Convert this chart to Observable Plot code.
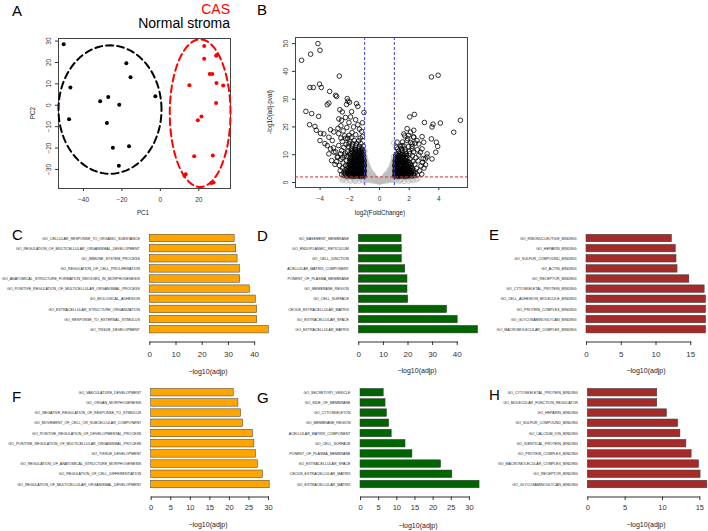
<!DOCTYPE html>
<html><head><meta charset="utf-8">
<script src="https://cdn.jsdelivr.net/npm/d3@7"></script>
<script src="https://cdn.jsdelivr.net/npm/@observablehq/plot@0.6"></script>
<style>
html,body{margin:0;padding:0;background:#fff;}
#fig{position:relative;width:708px;height:531px;overflow:hidden;background:#fff;}
#fig svg{position:absolute;left:0;top:0;}
</style></head><body><div id="fig"></div>
<script>
// ---------- Panel A: PCA ----------
const groupNames = ["Normal stroma", "CAS"];
const groupColors = ["#000000", "#ff0000"];
const normalPC1 = [-50.3,-17.7,-15.5,-46.8,-31.3,-27.1,-21.4,-2.6,-47.5,-27.8,-24.7,-16.3,-21.6];
const normalPC2 = [28.5,19.6,13.1,8.3,1.9,3.9,0.2,4.2,-6.5,-8.3,-19.8,-19.2,-28.3];
const casPC1 = [22.8,22.8,29.4,29.0,25.7,27.0,15.1,29.2,32.7,29.0,21.4,19.5,17.6,27.3,13.2,12.5,27.7,26.6];
const casPC2 = [27.7,21.7,23.5,23.1,14.6,14.6,9.3,10.4,9.2,1.1,-5.3,-7.0,-23.8,-23.5,-32.2,-32.9,-36.1,-36.3];
const ellipseCx = [-26.2, 20.7];
const ellipseCy = [-2.0, -3.7];
const ellipseRx = [26.8, 15.8];
const ellipseRy = [30.0, 34.5];
const pcaXTicks = [-40,-20,0,20];
const pcaYTicks = [-30,-20,-10,0,10,20,30];

// ---------- Panel B: volcano ----------
const fcCutoffs = [-1, 1];
const padjCutoff = [2];
const volcanoXTicks = [-4,-2,0,2,4];
const volcanoYTicks = [0,10,20,30,40,50];
const downGenes = [
[-5.25,44.0],[-4.64,46.2],[-4.15,50.0],[-4.01,47.6],[-4.69,34.2],[-4.46,34.2],[-4.04,35.4],[-3.92,34.2],[-3.36,32.8],[-2.96,31.4],[-2.89,31.0],[-2.71,38.3],[-3.52,28.0],[-3.41,28.6],[-4.96,25.6],[-4.57,24.8],[-4.10,23.8],[-2.17,30.2],[-2.13,29.3],[-2.22,28.1],[-2.02,28.9],[-1.55,28.4],[-1.46,27.4],[-1.88,25.5],[-1.05,25.2],[-4.71,20.8],[-4.35,20.2],[-4.26,18.8],[-3.97,17.7],[-4.01,15.1],[-3.68,14.0],[-3.75,17.5],[-2.67,26.2],[-2.51,25.4],[-2.74,22.9],[-2.29,23.4],[-1.95,23.6],[-2.56,22.4],[-1.61,22.6],[-2.06,21.6],[-1.46,20.8],[-3.30,19.0],[-3.08,18.2],[-2.75,17.6],[-3.41,16.3],[-3.18,15.1],[-3.52,13.3],[-3.30,12.1],[-3.41,10.3],[-3.07,10.9],[-2.85,9.1],[-3.23,7.9],[-3.0,6.5],[-2.8,19.5],[-2.45,18.6],[-2.2,19.8],[-1.75,20.0],[-1.35,19.2],[-1.15,21.5],[-2.6,20.4],
[-1.03,2.3],[-1.14,2.4],[-1.27,2.2],[-1.41,2.3],[-1.55,2.4],[-1.70,2.2],[-1.86,2.3],[-2.02,2.4],[-2.20,2.3],
[-1.08,2.7],[-1.21,2.8],[-1.34,2.7],[-1.48,2.6],[-1.63,2.8],[-1.78,2.7],[-1.94,2.6],[-2.10,2.8],
[-1.06,3.1],[-1.19,3.2],[-1.33,3.0],[-1.48,3.1],[-1.62,3.2],[-1.78,3.1],[-1.94,3.0],[-2.12,3.2],[-2.30,3.1],
[-1.10,3.6],[-1.24,3.5],[-1.37,3.7],[-1.52,3.6],[-1.66,3.5],[-1.82,3.7],[-1.98,3.6],[-2.16,3.5],
[-1.02,4.0],[-1.15,4.1],[-1.29,3.9],[-1.44,4.0],[-1.58,4.1],[-1.73,4.0],[-1.90,3.9],[-2.06,4.1],[-2.25,4.0],
[-1.05,4.5],[-1.18,4.4],[-1.32,4.6],[-1.47,4.5],[-1.62,4.4],[-1.78,4.6],[-1.95,4.5],[-2.12,4.4],
[-1.08,4.9],[-1.21,5.0],[-1.36,4.8],[-1.51,4.9],[-1.66,5.0],[-1.82,4.9],[-1.98,4.8],[-2.16,5.0],
[-1.10,5.4],[-1.25,5.3],[-1.40,5.5],[-1.56,5.4],[-1.72,5.3],[-1.88,5.5],[-2.05,5.4],
[-1.04,5.8],[-1.17,5.9],[-1.31,5.7],[-1.47,5.8],[-1.63,5.9],[-1.79,5.8],[-1.96,5.7],[-2.13,5.9],
[-1.02,6.3],[-1.16,6.2],[-1.32,6.4],[-1.47,6.3],[-1.63,6.2],[-1.80,6.4],[-1.97,6.3],
[-1.09,6.7],[-1.24,6.8],[-1.39,6.6],[-1.55,6.7],[-1.71,6.8],[-1.88,6.7],[-2.05,6.6],
[-1.12,7.2],[-1.28,7.1],[-1.44,7.3],[-1.60,7.2],[-1.77,7.1],[-1.94,7.3],
[-1.03,7.6],[-1.18,7.7],[-1.34,7.5],[-1.50,7.6],[-1.67,7.7],[-1.85,7.6],[-2.02,7.5],
[-1.05,8.1],[-1.20,8.0],[-1.37,8.2],[-1.54,8.1],[-1.72,8.0],[-1.90,8.2],
[-1.12,8.5],[-1.28,8.6],[-1.45,8.4],[-1.62,8.5],[-1.80,8.6],[-2.00,8.5],
[-1.15,9.0],[-1.32,8.9],[-1.50,9.1],[-1.70,9.0],[-1.90,8.9],
[-1.06,9.4],[-1.22,9.5],[-1.40,9.3],[-1.58,9.4],[-1.77,9.5],[-1.97,9.4],[-2.20,9.3],
[-1.10,9.9],[-1.28,9.8],[-1.46,10.0],[-1.65,9.9],[-1.85,9.8],
[-1.15,10.3],[-1.33,10.4],[-1.52,10.2],[-1.72,10.3],[-1.95,10.4],
[-1.20,10.8],[-1.40,10.7],[-1.60,10.9],[-1.82,10.8],
[-1.08,11.2],[-1.27,11.3],[-1.47,11.1],[-1.68,11.2],[-1.90,11.3],[-2.15,11.1],
[-1.15,11.7],[-1.37,11.6],[-1.58,11.8],[-1.80,11.7],
[-1.20,12.1],[-1.42,12.2],[-1.65,12.0],[-1.88,12.1],
[-1.10,13.1],[-1.35,13.0],[-1.60,13.2],[-1.85,13.1],[-2.10,13.0],
[-1.25,14.0],[-1.55,14.1],[-1.80,13.9],[-2.05,14.0],
[-1.40,15.0],[-1.70,15.1],[-2.00,14.9],
[-1.30,16.0],[-1.90,16.1],[-2.30,15.9],
[-2.40,3.5],[-2.50,5.2],[-2.45,7.0],[-2.60,8.4],[-2.35,9.8],[-2.55,11.5],[-2.70,6.1],[-2.80,9.2],[-2.65,4.3],[-2.90,7.5],[-2.40,12.6],[-2.25,13.7],[-2.50,14.8],[-2.95,11.0],[-2.75,13.3],[-2.15,15.9],[-1.60,17.2],[-1.85,18.0],[-2.05,17.0],[-2.35,16.8],[-1.15,16.5],[-1.20,18.4],[-2.60,16.0],[-3.10,12.5],
[-2.38,2.6],[-2.32,4.6],[-2.28,6.2],[-2.22,7.9],[-2.55,2.9],[-2.48,9.0],[-2.30,10.6],[-2.62,10.3]
];
const upGenes = [
[3.50,38.0],[3.95,38.6],[5.45,22.4],[5.00,18.1],[3.03,21.6],[3.61,21.0],[3.54,20.0],[4.10,21.4],[2.35,24.5],[2.04,23.6],[3.50,15.7],[3.83,14.5],[3.92,13.0],[3.79,10.9],[3.54,8.5],[2.87,16.5],[2.98,14.5],[2.87,12.1],[2.76,10.9],[2.31,18.8],[1.86,19.4],[2.09,18.1],[1.64,17.5],[1.19,14.5],[1.14,12.7],[1.52,13.3],[1.86,15.1],[2.20,13.9],[2.53,15.1],[2.65,13.9],[2.31,16.3],[3.21,10.3],[3.09,8.5],
[1.02,2.3],[1.14,2.4],[1.27,2.2],[1.40,2.3],[1.54,2.4],[1.69,2.2],[1.84,2.3],[2.00,2.4],[2.18,2.3],
[1.08,2.7],[1.21,2.8],[1.34,2.7],[1.48,2.6],[1.62,2.8],[1.77,2.7],[1.93,2.6],[2.09,2.8],
[1.06,3.1],[1.19,3.2],[1.33,3.0],[1.47,3.1],[1.61,3.2],[1.76,3.1],[1.92,3.0],[2.10,3.2],[2.28,3.1],
[1.10,3.6],[1.23,3.5],[1.37,3.7],[1.51,3.6],[1.66,3.5],[1.82,3.7],[1.98,3.6],[2.16,3.5],
[1.03,4.0],[1.16,4.1],[1.30,3.9],[1.44,4.0],[1.59,4.1],[1.74,4.0],[1.90,3.9],[2.07,4.1],[2.25,4.0],
[1.05,4.5],[1.19,4.4],[1.33,4.6],[1.48,4.5],[1.63,4.4],[1.79,4.6],[1.96,4.5],[2.13,4.4],
[1.09,4.9],[1.23,5.0],[1.37,4.8],[1.52,4.9],[1.68,5.0],[1.84,4.9],[2.01,4.8],[2.20,5.0],
[1.11,5.4],[1.26,5.3],[1.41,5.5],[1.57,5.4],[1.73,5.3],[1.90,5.5],[2.07,5.4],
[1.04,5.8],[1.18,5.9],[1.33,5.7],[1.48,5.8],[1.64,5.9],[1.80,5.8],[1.97,5.7],[2.15,5.9],
[1.03,6.3],[1.17,6.2],[1.33,6.4],[1.49,6.3],[1.66,6.2],[1.83,6.4],[2.00,6.3],
[1.10,6.7],[1.25,6.8],[1.41,6.6],[1.57,6.7],[1.74,6.8],[1.92,6.7],[2.10,6.6],
[1.13,7.2],[1.29,7.1],[1.45,7.3],[1.62,7.2],[1.80,7.1],[1.99,7.3],
[1.05,7.6],[1.20,7.7],[1.36,7.5],[1.53,7.6],[1.71,7.7],[1.90,7.6],
[1.07,8.1],[1.22,8.0],[1.39,8.2],[1.56,8.1],[1.75,8.0],
[1.14,8.5],[1.30,8.6],[1.47,8.4],[1.65,8.5],[1.85,8.6],[2.06,8.5],
[1.17,9.0],[1.35,8.9],[1.54,9.1],[1.74,9.0],
[1.08,9.4],[1.25,9.5],[1.43,9.3],[1.62,9.4],[1.83,9.5],
[1.12,9.9],[1.30,9.8],[1.50,10.0],[1.70,9.9],
[1.18,10.3],[1.38,10.4],[1.58,10.2],[1.80,10.3],[2.05,10.4],
[1.30,11.2],[1.52,11.3],[1.75,11.1],[2.00,11.2],
[1.22,12.1],[1.48,12.2],[1.72,12.0],[2.20,12.1],
[1.40,13.0],[1.65,13.1],[1.95,12.9],
[2.40,3.4],[2.50,5.0],[2.38,6.6],[2.60,7.8],[2.45,8.9],[2.70,4.2],[2.80,6.0],[2.65,9.9],[2.90,7.2],[2.30,11.0],[2.55,11.8],[2.85,3.0],[3.00,5.2],[2.95,8.6],[3.10,6.4],[2.20,13.0],[2.10,14.4],[1.90,15.8],[1.55,14.6],[2.40,14.2],[1.95,17.0],[2.30,16.4],[1.70,16.8],[3.20,9.2],
[2.36,2.5],[2.32,4.4],[2.26,7.6],[2.55,2.7],[2.22,9.6]
];
const otherGenes = [
[-2.4,1.2],[-2.2,1.6],[-2.0,1.0],[-1.8,1.5],[-1.6,0.9],[-1.4,1.4],[-1.2,1.0],[-1.05,1.7],[-1.9,1.8],[-1.5,1.8],[-2.1,1.9],[-1.3,1.9],[-1.7,1.2],[-2.3,1.8],
[1.05,1.5],[1.2,1.1],[1.35,1.7],[1.5,1.0],[1.65,1.5],[1.8,1.2],[2.0,1.7],[2.2,1.3],[2.4,1.8],[1.4,0.8],[1.9,1.9],[1.15,1.9],[1.7,1.8],[2.1,1.0],
[-2.5,0.8],[-2.25,0.6],[-1.95,0.5],[-1.65,0.4],[-1.35,0.5],[-1.1,0.6],[1.1,0.6],[1.35,0.5],[1.65,0.4],[1.95,0.5],[2.25,0.7],[2.5,1.0],[-2.6,1.6],[2.6,1.5],[-1.15,1.3],[1.25,1.4],
[-0.97,1.0],[-0.97,2.3],[-0.97,3.6],[-0.97,4.9],[-0.97,6.2],[-0.97,7.5],[-0.97,8.8],
[-0.91,1.5],[-0.91,2.8],[-0.91,4.1],[-0.91,5.4],[-0.91,6.6],[-0.91,7.9],
[-0.85,0.9],[-0.85,2.1],[-0.85,3.3],[-0.85,4.5],[-0.85,5.7],[-0.85,6.9],
[-0.79,1.4],[-0.79,2.6],[-0.79,3.8],[-0.79,5.0],[-0.79,6.1],
[-0.73,0.8],[-0.73,1.9],[-0.73,3.0],[-0.73,4.1],[-0.73,5.2],
[-0.66,1.3],[-0.66,2.4],[-0.66,3.5],[-0.66,4.5],
[-0.60,0.7],[-0.60,1.7],[-0.60,2.7],[-0.60,3.8],
[-0.53,1.1],[-0.53,2.1],[-0.53,3.2],
[-0.47,0.6],[-0.47,1.5],[-0.47,2.4],[-0.47,3.1],
[-0.40,1.0],[-0.40,1.8],[-0.40,2.6],
[-0.34,0.5],[-0.34,1.3],[-0.34,2.0],
[-0.27,0.8],[-0.27,1.6],
[-0.20,0.4],[-0.20,1.0],[-0.14,0.6],[-0.14,1.2],[-0.08,0.3],[-0.08,0.7],[0.0,0.1],[0.0,0.9],[0.05,0.3],[0.05,0.6],[0.12,0.6],[0.12,1.3],[0.18,0.4],[0.18,1.0],
[0.25,0.8],[0.25,1.5],
[0.31,0.5],[0.31,1.2],[0.31,1.9],
[0.38,0.9],[0.38,1.7],[0.38,2.5],
[0.44,0.6],[0.44,1.4],[0.44,2.3],[0.44,3.0],
[0.51,1.1],[0.51,2.0],[0.51,3.0],
[0.57,0.7],[0.57,1.6],[0.57,2.6],[0.57,3.5],
[0.64,1.2],[0.64,2.3],[0.64,3.3],[0.64,4.3],
[0.70,0.8],[0.70,1.8],[0.70,2.9],[0.70,4.0],[0.70,4.9],
[0.77,1.3],[0.77,2.5],[0.77,3.7],[0.77,4.8],
[0.83,0.9],[0.83,2.0],[0.83,3.2],[0.83,4.4],[0.83,5.6],[0.83,6.5],
[0.90,1.5],[0.90,2.7],[0.90,4.0],[0.90,5.3],[0.90,6.5],[0.90,7.6],
[0.96,1.0],[0.96,2.2],[0.96,3.5],[0.96,4.8],[0.96,6.0],[0.96,7.2],[0.96,8.1],
[0.96,14.2],[-0.98,11.5],[-1.0,9.8],[0.95,9.4]
];

// ---------- Panels C–H: GO enrichment bars ----------
const cTerms = ["GO_CELLULAR_RESPONSE_TO_ORGANIC_SUBSTANCE","GO_REGULATION_OF_MULTICELLULAR_ORGANISMAL_DEVELOPMENT","GO_IMMUNE_SYSTEM_PROCESS","GO_REGULATION_OF_CELL_PROLIFERATION","GO_ANATOMICAL_STRUCTURE_FORMATION_INVOLVED_IN_MORPHOGENESIS","GO_POSITIVE_REGULATION_OF_MULTICELLULAR_ORGANISMAL_PROCESS","GO_BIOLOGICAL_ADHESION","GO_EXTRACELLULAR_STRUCTURE_ORGANIZATION","GO_RESPONSE_TO_EXTERNAL_STIMULUS","GO_TISSUE_DEVELOPMENT"];
const cValues = [32.4,33.0,33.5,34.4,34.5,38.2,40.5,41.0,41.0,45.4];
const dTerms = ["GO_BASEMENT_MEMBRANE","GO_ENDOPLASMIC_RETICULUM","GO_CELL_JUNCTION","ACELLULAR_MATRIX_COMPONENT","PONENT_OF_PLASMA_MEMBRANE","GO_MEMBRANE_REGION","GO_CELL_SURFACE","CEOUS_EXTRACELLULAR_MATRIX","GO_EXTRACELLULAR_SPACE","GO_EXTRACELLULAR_MATRIX"];
const dValues = [17.4,17.5,17.5,18.9,19.8,19.8,20.1,35.9,40.2,48.5];
const eTerms = ["GO_RIBONUCLEOTIDE_BINDING","GO_HEPARIN_BINDING","GO_SULFUR_COMPOUND_BINDING","GO_ACTIN_BINDING","GO_RECEPTOR_BINDING","GO_CYTOSKELETAL_PROTEIN_BINDING","GO_CELL_ADHESION_MOLECULE_BINDING","GO_PROTEIN_COMPLEX_BINDING","GO_GLYCOSAMINOGLYCAN_BINDING","GO_MACROMOLECULAR_COMPLEX_BINDING"];
const eValues = [12.3,12.85,12.95,13.1,14.8,17.0,17.2,17.2,17.2,17.2];
const fTerms = ["GO_VASCULATURE_DEVELOPMENT","GO_ORGAN_MORPHOGENESIS","GO_NEGATIVE_REGULATION_OF_RESPONSE_TO_STIMULUS","GO_MOVEMENT_OF_CELL_OR_SUBCELLULAR_COMPONENT","GO_POSITIVE_REGULATION_OF_DEVELOPMENTAL_PROCESS","GO_POSITIVE_REGULATION_OF_MULTICELLULAR_ORGANISMAL_PROCESS","GO_TISSUE_DEVELOPMENT","GO_REGULATION_OF_ANATOMICAL_STRUCTURE_MORPHOGENESIS","GO_REGULATION_OF_CELL_DIFFERENTIATION","GO_REGULATION_OF_MULTICELLULAR_ORGANISMAL_DEVELOPMENT"];
const fValues = [21.1,22.3,23.0,23.5,26.0,26.4,26.8,27.3,28.6,30.3];
const gTerms = ["GO_SECRETORY_VESICLE","GO_SIDE_OF_MEMBRANE","GO_CYTOSKELETON","GO_MEMBRANE_REGION","ACELLULAR_MATRIX_COMPONENT","GO_CELL_SURFACE","PONENT_OF_PLASMA_MEMBRANE","GO_EXTRACELLULAR_SPACE","CEOUS_EXTRACELLULAR_MATRIX","GO_EXTRACELLULAR_MATRIX"];
const gValues = [6.4,6.9,7.3,7.9,8.6,12.4,14.3,22.2,25.3,32.8];
const hTerms = ["GO_CYTOSKELETAL_PROTEIN_BINDING","GO_MOLECULAR_FUNCTION_REGULATOR","GO_HEPARIN_BINDING","GO_SULFUR_COMPOUND_BINDING","GO_CALCIUM_ION_BINDING","GO_IDENTICAL_PROTEIN_BINDING","GO_PROTEIN_COMPLEX_BINDING","GO_MACROMOLECULAR_COMPLEX_BINDING","GO_RECEPTOR_BINDING","GO_GLYCOSAMINOGLYCAN_BINDING"];
const hValues = [9.3,9.3,10.6,12.1,12.4,13.2,13.9,14.9,15.1,16.0];
const ticks40 = [0,10,20,30,40];
const ticks30 = [0,5,10,15,20,25,30];
const ticks15 = [0,5,10,15];
const barXLabel = "\u2212log10(adjp)";

// ---------- drawing ----------
const W = 708, H = 531;
const FONT = '"Liberation Sans", Arial, Helvetica, sans-serif';
const fig = document.getElementById("fig");
const css = fs => `background:transparent;overflow:visible;font-family:${FONT};font-size:${fs}px;color:#333;position:absolute;left:0;top:0;`;

// Panel A
const normalPts = normalPC1.map((x,i)=>({x, y: normalPC2[i]}));
const casPts = casPC1.map((x,i)=>({x, y: casPC2[i]}));
const ellipses = groupNames.map((g,k)=>d3.range(0,360,3).map(a=>{
  const t = a*Math.PI/180;
  return {x: ellipseCx[k] + ellipseRx[k]*Math.cos(t), y: ellipseCy[k] + ellipseRy[k]*Math.sin(t)};
}));
fig.appendChild(Plot.plot({
  width: W, height: H, marginLeft: 58, marginRight: W-230, marginTop: 38, marginBottom: H-188,
  style: css(6.5),
  x: {domain: [-53, 36.5], ticks: pcaXTicks, tickSize: 3, tickPadding: 6, label: null},
  y: {domain: [-38.9, 31.2], ticks: pcaYTicks, tickSize: 3, tickRotate: -90, tickPadding: 5, label: null},
  marks: [
    Plot.frame({stroke: "#444"}),
    Plot.line(ellipses[0], {x: "x", y: "y", curve: "linear-closed", stroke: groupColors[0], strokeWidth: 2, strokeDasharray: "7,4"}),
    Plot.line(ellipses[1], {x: "x", y: "y", curve: "linear-closed", stroke: groupColors[1], strokeWidth: 2, strokeDasharray: "7,4"}),
    Plot.dot(normalPts, {x: "x", y: "y", r: 2, fill: groupColors[0], stroke: "none"}),
    Plot.dot(casPts, {x: "x", y: "y", r: 2, fill: groupColors[1], stroke: "none"})
  ]
}));

// Panel B
fig.appendChild(Plot.plot({
  width: W, height: H, marginLeft: 295, marginRight: W-467, marginTop: 37, marginBottom: H-187,
  style: css(6.5),
  x: {domain: [-5.66, 5.93], ticks: volcanoXTicks, tickSize: 3, tickPadding: 6, label: null},
  y: {domain: [-1.8, 52.2], ticks: volcanoYTicks, tickSize: 3, tickRotate: -90, tickPadding: 4.5, label: null},
  marks: [
    Plot.frame({stroke: "#444"}),
    Plot.dot(otherGenes, {x: d=>d[0], y: d=>d[1], r: 2.3, stroke: "#bdbdbd", strokeWidth: 0.9, fill: "none"}),
    Plot.dot(downGenes.concat(upGenes), {x: d=>d[0], y: d=>d[1], r: 2.3, stroke: "#000", strokeWidth: 0.8, fill: "none"}),
    Plot.ruleX(fcCutoffs, {stroke: "#4040cc", strokeWidth: 1, strokeDasharray: "3,2"}),
    Plot.ruleY(padjCutoff, {stroke: "#e02828", strokeWidth: 1, strokeDasharray: "3,2"})
  ]
}));

// Bar panels
function barPanel({terms, values, fill, zeroX, ppu, ticks, row0, rowStep, axisY, tickFont, tickPad}) {
  const xmax = ticks[ticks.length-1];
  const xEnd = zeroX + xmax*ppu;
  const yMin = -0.7;
  const yMax = (axisY - row0)/rowStep;
  const top = row0 + yMin*rowStep;
  const data = terms.map((t,i)=>({term: t, value: values[i], row: i}));
  return Plot.plot({
    width: W, height: H, marginLeft: zeroX, marginRight: W - xEnd, marginTop: top, marginBottom: H - axisY,
    style: css(tickFont),
    x: {domain: [0, xmax], ticks, tickSize: 3.5, tickPadding: tickPad, label: null, line: true},
    y: {domain: [yMin, yMax], reverse: true, axis: null},
    marks: [
      Plot.rectX(data, {x1: 0, x2: "value", y1: d=>d.row-0.37, y2: d=>d.row+0.37, fill, stroke: "#3a3a3a", strokeWidth: 0.5}),
      Plot.text(data, {x: 0, y: "row", text: "term", textAnchor: "end", dx: -10, fontSize: 3.6, fill: "#222"})
    ]
  });
}
const row1 = {row0: 238, rowStep: 10.13, axisY: 341.5, tickFont: 8, tickPad: 5.5};
const row2 = {row0: 392.2, rowStep: 10.2, axisY: 496.5, tickFont: 7.5, tickPad: 3.8};
fig.appendChild(barPanel({terms: cTerms, values: cValues, fill: "#FFA500", zeroX: 149.3, ppu: 2.62, ticks: ticks40, ...row1}));
fig.appendChild(barPanel({terms: dTerms, values: dValues, fill: "#006400", zeroX: 358.3, ppu: 2.46, ticks: ticks40, ...row1}));
fig.appendChild(barPanel({terms: eTerms, values: eValues, fill: "#A52A2A", zeroX: 586, ppu: 6.95, ticks: ticks15, ...row1}));
fig.appendChild(barPanel({terms: fTerms, values: fValues, fill: "#FFA500", zeroX: 150.7, ppu: 3.91, ticks: ticks30, ...row2}));
fig.appendChild(barPanel({terms: gTerms, values: gValues, fill: "#006400", zeroX: 360, ppu: 3.63, ticks: ticks30, ...row2}));
fig.appendChild(barPanel({terms: hTerms, values: hValues, fill: "#A52A2A", zeroX: 587.3, ppu: 7.47, ticks: ticks15, ...row2}));

// Text overlay: panel letters, legend, axis titles
const ov = d3.select(fig).append("svg").attr("width", W).attr("height", H)
  .style("position","absolute").style("left","0").style("top","0").style("font-family", FONT);
const letters = [["A",12,16],["B",257,15],["C",12,240],["D",257,241],["E",489,240],["F",12,402],["G",257,403],["H",489,400]];
letters.forEach(([t,x,y]) => ov.append("text").attr("x",x).attr("y",y).attr("font-size",15).attr("fill","#000").text(t));
ov.append("text").attr("x",230).attr("y",13.5).attr("text-anchor","end").attr("font-size",14).attr("fill",groupColors[1]).text(groupNames[1]);
ov.append("text").attr("x",230).attr("y",28).attr("text-anchor","end").attr("font-size",14).attr("fill",groupColors[0]).text(groupNames[0]);
const titles = [
  ["PC1",143,215,0],["PC2",35,113,-90],
  ["log2(FoldChange)",380,215,0],["-log10(adj-pval)",272,112,-90],
  [barXLabel,208,374,0],[barXLabel,417,373,0],[barXLabel,646,373,0],
  [barXLabel,208,527,0],[barXLabel,418,528,0],[barXLabel,646,527,0]
];
titles.forEach(([t,x,y,r]) => ov.append("text")
  .attr("transform", `translate(${x},${y}) rotate(${r})`)
  .attr("text-anchor","middle").attr("font-size", t===barXLabel ? 7 : 6.3).attr("fill","#222").text(t));
</script></body></html>
